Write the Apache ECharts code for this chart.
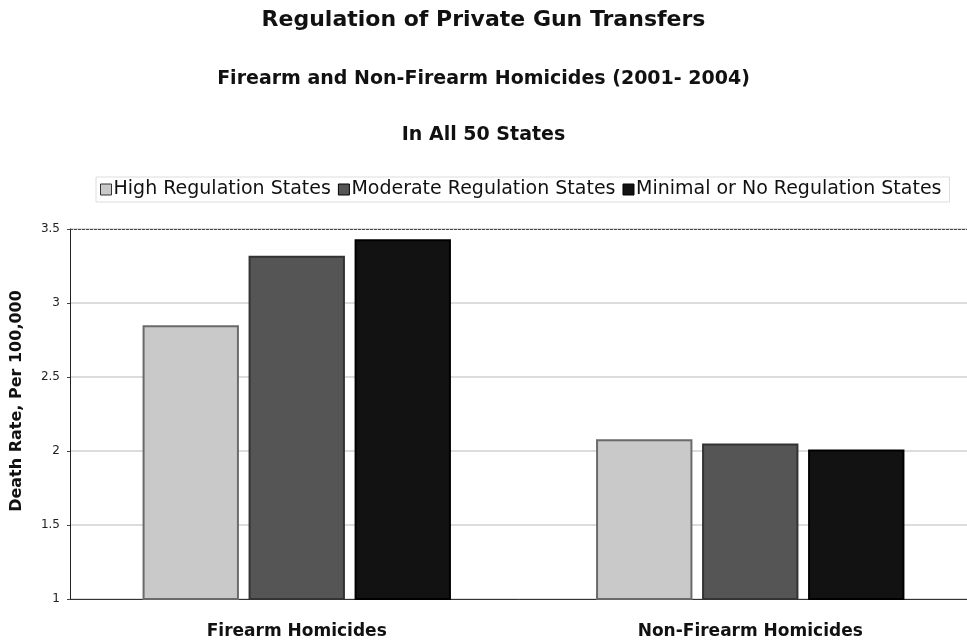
<!DOCTYPE html>
<html><head><meta charset="utf-8">
<script src="https://cdn.jsdelivr.net/npm/echarts@6/dist/echarts.min.js"></script>
<style>html,body{margin:0;padding:0;background:#fff}#c{width:967px;height:640px}</style>
</head><body><div id="c"></div>
<script>
const categories = ['Firearm Homicides', 'Non-Firearm Homicides'];
const seriesNames = ['High Regulation States', 'Moderate Regulation States', 'Minimal or No Regulation States'];
const highValues = [2.85, 2.08];
const moderateValues = [3.32, 2.05];
const minimalValues = [3.43, 2.01];
const yTicks = [1, 1.5, 2, 2.5, 3, 3.5];

const font = 'DejaVu Sans, Liberation Sans, Arial, sans-serif';
const colors = ['#c9c9c9', '#555555', '#121212'];
const borders = ['#6a6a6a', '#333333', '#000000'];
const values = [highValues, moderateValues, minimalValues];

const chart = echarts.init(document.getElementById('c'));
chart.setOption({
  animation: false,
  textStyle: {fontFamily: font},
  title: [
    {text: 'Regulation of Private Gun Transfers', left: 'center', top: 9, padding: 0,
     textStyle: {fontSize: 22, fontWeight: 'bold', color: '#111', fontFamily: font}},
    {text: 'Firearm and Non-Firearm Homicides (2001- 2004)', left: 'center', top: 70, padding: 0,
     textStyle: {fontSize: 19, fontWeight: 'bold', color: '#111', fontFamily: font}},
    {text: 'In All 50 States', left: 'center', top: 126, padding: 0,
     textStyle: {fontSize: 19, fontWeight: 'bold', color: '#111', fontFamily: font}}
  ],
  legend: {
    top: 177, left: 96, itemGap: 7, itemWidth: 11, itemHeight: 11,
    borderColor: '#dddddd', borderWidth: 1, padding: [3, 8, 3, 4],
    textStyle: {fontSize: 19, color: '#111', fontFamily: font, padding: [0, 0, 0, -3]},
    data: seriesNames.map((n, i) => ({name: n, icon: 'rect',
      itemStyle: {borderColor: i === 0 ? '#333' : '#000', borderWidth: 1}}))
  },
  grid: {left: 70, right: -10, top: 229, bottom: 41, containLabel: false, outerBoundsMode: 'none'},
  xAxis: {
    type: 'category', data: categories,
    axisLine: {show: true, lineStyle: {color: '#333', width: 1}},
    axisTick: {show: false},
    axisLabel: {fontSize: 17, fontWeight: 'bold', color: '#111', margin: 24, fontFamily: font}
  },
  yAxis: {
    type: 'value', min: yTicks[0], max: yTicks[yTicks.length - 1], interval: 0.5,
    name: 'Death Rate, Per 100,000', nameLocation: 'middle', nameGap: 45, nameRotate: 90,
    nameTextStyle: {fontSize: 16, fontWeight: 'bold', color: '#111', fontFamily: font, padding: [0, 0, 0, 26]},
    axisLine: {show: true, lineStyle: {color: '#222', width: 1}},
    axisTick: {show: true, length: 3, lineStyle: {color: '#444'}},
    axisLabel: {margin: 10, color: '#222', fontSize: 12, fontFamily: font},
    splitLine: {show: true, lineStyle: {color: '#dcdcdc', width: 2}}
  },
  series: seriesNames.map((n, i) => ({
    name: n, type: 'bar', data: values[i],
    barGap: '10%', barCategoryGap: '32%',
    itemStyle: {color: colors[i], borderColor: borders[i], borderWidth: 2}
  })).concat([{
    type: 'line', data: [], markLine: {silent: true, symbol: 'none', label: {show: false},
      lineStyle: {color: '#444', type: [3, 1], width: 1},
      data: [{yAxis: 3.5}]}
  }])
});
</script></body></html>
